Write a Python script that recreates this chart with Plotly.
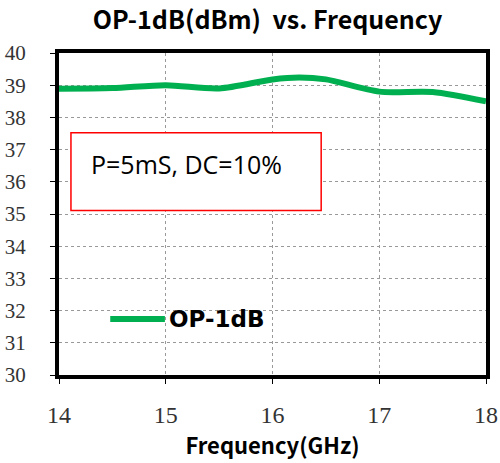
import plotly.graph_objects as go

freq = [14.0, 14.5, 15.0, 15.5, 16.0, 16.25, 16.5, 17.0, 17.5, 18.0]
op1db = [38.89, 38.91, 39.0, 38.9, 39.18, 39.24, 39.18, 38.8, 38.79, 38.5]
series_name = "OP-1dB"
chart_title = "OP-1dB(dBm)  vs. Frequency"
x_title = "Frequency(GHz)"
note_text = "P=5mS, DC=10%"
x_ticks = [14, 15, 16, 17, 18]
y_ticks = list(range(30, 41))

GREEN = "#00B050"
SERIF = "Liberation Serif, Times New Roman, serif"
fig = go.Figure()
fig.add_trace(go.Scatter(x=freq, y=op1db, mode="lines", name=series_name,
                         line=dict(color=GREEN, width=6, shape="spline", smoothing=0.8),
                         showlegend=False))

# legend sample (manual) and label
fig.add_shape(type="line", xref="paper", yref="paper", x0=0.12, x1=0.248, y0=0.174, y1=0.174,
              line=dict(color=GREEN, width=6))
fig.add_annotation(text=f"<b>{series_name}</b>", xref="paper", yref="paper", x=0.252, y=0.174,
                   xanchor="left", yanchor="middle", showarrow=False,
                   font=dict(family="DejaVu Sans", size=23, color="black"))

# note box
fig.add_shape(type="rect", xref="paper", yref="paper", x0=0.028, x1=0.614, y0=0.511, y1=0.752,
              line=dict(color="red", width=1.5), fillcolor="white", layer="above")
fig.add_annotation(text=note_text, xref="paper", yref="paper", x=0.071, y=0.655,
                   xanchor="left", yanchor="middle", showarrow=False,
                   font=dict(family="Open Sans", size=25, color="black"))

fig.update_layout(
    width=500, height=463,
    margin=dict(l=59, r=14, t=53, b=88, autoexpand=False),
    paper_bgcolor="white", plot_bgcolor="white",
    title=dict(text=f"<b>{chart_title}</b>", x=0.535, xanchor="center", y=0.957, yanchor="middle",
               font=dict(family="Noto Sans CJK SC", size=25, color="black")),
    xaxis=dict(range=[14, 18], tickvals=x_ticks, showline=True, linecolor="black", linewidth=4,
               mirror=True, ticks="outside", ticklen=5, tickcolor="black", tickwidth=1,
               showgrid=True, gridcolor="#999999", griddash="dot", gridwidth=1,
               zeroline=False, ticklabelstandoff=10, automargin=False,
               tickfont=dict(family=SERIF, size=24, color="#333333"),
               title=dict(text=f"<b>{x_title}</b>", standoff=6,
                          font=dict(family="Noto Sans CJK SC", size=22, color="black"))),
    yaxis=dict(range=[30, 40], tickvals=y_ticks, showline=True, linecolor="black", linewidth=4,
               mirror=True, ticks="outside", ticklen=5, tickcolor="black", tickwidth=1,
               showgrid=True, gridcolor="#999999", griddash="dot", gridwidth=1,
               zeroline=False, ticklabelstandoff=20, automargin=False,
               tickfont=dict(family=SERIF, size=21, color="#333333")),
)

fig.write_html("out.html")
